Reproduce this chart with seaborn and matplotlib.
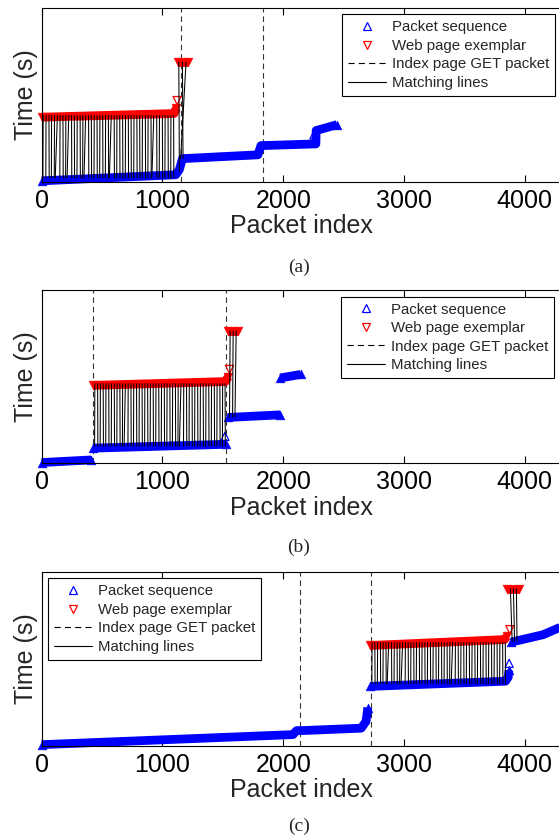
import numpy as np
import pandas as pd
import matplotlib
matplotlib.use("Agg")
import matplotlib.pyplot as plt
from matplotlib.lines import Line2D
import seaborn as sns

# ---------------- data ----------------
x_ticks = [0, 1000, 2000, 3000, 4000]
x_max = 4300
y_max = 10
panel_captions = ["(a)", "(b)", "(c)"]
legend_labels = ["Packet sequence", "Web page exemplar", "Index page GET packet", "Matching lines"]

# Panel (a)
a_seq_x = [0, 1110, 1140, 1165, 1790, 1815, 2270, 2272, 2445]
a_seq_y = [0.05, 0.40, 0.70, 1.33, 1.55, 2.08, 2.18, 2.95, 3.29]
a_seq_part = [1, 1, 1, 1, 1, 1, 1, 1, 1]
a_seq_single_x = [2254]
a_seq_single_y = [2.70]
a_ex_x = [0, 1095, 1115, 1125, 1210]
a_ex_y = [3.72, 3.93, 4.25, 6.90, 6.90]
a_ex_part = [1, 1, 1, 2, 2]
a_ex_single_x = [1121]
a_ex_single_y = [4.68]
a_get_x = [1157, 1829]
a_match_ex_x = [12, 36, 60, 82, 106, 130, 152, 176, 200, 224, 247, 270, 294, 318, 341, 364,
                388, 411, 435, 458, 482, 505, 529, 552, 576, 600, 623, 646, 670, 694, 717, 740,
                764, 788, 811, 834, 858, 881, 905, 928, 952, 975, 999, 1022, 1046, 1070, 1092]
a_match_seq_x = [10, 34, 62, 80, 104, 112, 150, 178, 198, 210, 249, 272, 292, 320, 339, 350,
                 390, 413, 433, 460, 480, 507, 527, 554, 560, 602, 621, 648, 672, 692, 719, 742,
                 762, 790, 813, 832, 860, 879, 907, 912, 954, 973, 1001, 1020, 1048, 1068, 1094]
a_match_ex_y = 3.82
a_match_seq_y = 0.22
a_top_ex_x = [1135, 1165, 1195]
a_top_ex_y = [6.90, 6.90, 6.90]
a_top_seq_x = [1140, 1170, 1150]
a_top_seq_y = [0.60, 1.35, 1.33]

# Panel (b)
b_seq_x = [0, 410, 425, 1525, 1540, 1975, 1975, 2145]
b_seq_y = [0.05, 0.20, 0.88, 1.10, 2.65, 2.80, 4.93, 5.13]
b_seq_part = [1, 1, 2, 2, 3, 3, 4, 4]
b_seq_single_x = [1517]
b_seq_single_y = [1.56]
b_ex_x = [425, 1520, 1545, 1545, 1625]
b_ex_y = [4.50, 4.72, 5.00, 7.63, 7.63]
b_ex_part = [1, 1, 1, 2, 2]
b_ex_single_x = [1555]
b_ex_single_y = [5.42]
b_get_x = [421, 1529]
b_match_ex_x = [440, 463, 486, 509, 532, 555, 578, 601, 624, 647, 670, 693, 716, 739, 762, 785,
                808, 831, 854, 877, 900, 923, 946, 969, 992, 1015, 1038, 1061, 1084, 1107, 1130,
                1153, 1176, 1199, 1222, 1245, 1268, 1291, 1314, 1337, 1360, 1383, 1406, 1429,
                1452, 1475, 1498, 1518]
b_match_seq_x = [438, 465, 484, 511, 530, 557, 576, 603, 622, 649, 668, 682, 714, 741, 760, 787,
                 806, 833, 852, 879, 898, 925, 944, 971, 990, 1017, 1036, 1063, 1082, 1109, 1128,
                 1140, 1174, 1201, 1220, 1247, 1266, 1293, 1312, 1339, 1358, 1385, 1404, 1431,
                 1450, 1477, 1496, 1520]
b_match_ex_y = 4.60
b_match_seq_y = 1.00
b_top_ex_x = [1560, 1585, 1610]
b_top_ex_y = [7.63, 7.63, 7.63]
b_top_seq_x = [1555, 1580, 1600]
b_top_seq_y = [2.65, 2.66, 2.67]

# Panel (c)
c_seq_x = [0, 2080, 2110, 2150, 2645, 2685, 2700, 2720, 3840, 3862, 3868, 3885, 4150, 4300]
c_seq_y = [0.06, 0.64, 0.87, 0.87, 1.01, 1.40, 2.20, 3.42, 3.72, 3.95, 4.35, 5.97, 6.40, 6.85]
c_seq_part = [1, 1, 1, 1, 1, 1, 1, 2, 2, 2, 2, 3, 3, 3]
c_seq_single_x = [3870]
c_seq_single_y = [4.75]
c_ex_x = [2720, 3830, 3852, 3855, 3950]
c_ex_y = [5.78, 6.12, 6.30, 9.06, 9.06]
c_ex_part = [1, 1, 1, 2, 2]
c_ex_single_x = [3875]
c_ex_single_y = [6.69]
c_get_x = [2135, 2727]
c_match_ex_x = [2735, 2758, 2781, 2804, 2827, 2850, 2873, 2896, 2919, 2942, 2965, 2988, 3011,
                3034, 3057, 3080, 3103, 3126, 3149, 3172, 3195, 3218, 3241, 3264, 3287, 3310,
                3333, 3356, 3379, 3402, 3425, 3448, 3471, 3494, 3517, 3540, 3563, 3586, 3609,
                3632, 3655, 3678, 3701, 3724, 3747, 3770, 3793, 3816, 3838]
c_match_seq_x = [2733, 2760, 2779, 2806, 2825, 2852, 2860, 2898, 2917, 2944, 2963, 2975, 3009,
                 3036, 3055, 3082, 3101, 3128, 3147, 3174, 3193, 3220, 3239, 3266, 3285, 3312,
                 3331, 3358, 3377, 3390, 3423, 3450, 3469, 3496, 3515, 3542, 3561, 3588, 3607,
                 3634, 3653, 3680, 3699, 3726, 3745, 3772, 3791, 3818, 3840]
c_match_ex_y = 5.95
c_match_seq_y = 3.57
c_top_ex_x = [3880, 3905, 3930]
c_top_ex_y = [9.06, 9.06, 9.06]
c_top_seq_x = [3895, 3915, 3935]
c_top_seq_y = [6.00, 6.02, 6.05]

panels = [
    dict(seq_x=a_seq_x, seq_y=a_seq_y, seq_part=a_seq_part, seq_sx=a_seq_single_x, seq_sy=a_seq_single_y,
         ex_x=a_ex_x, ex_y=a_ex_y, ex_part=a_ex_part, ex_sx=a_ex_single_x, ex_sy=a_ex_single_y,
         get_x=a_get_x, m_ex_x=a_match_ex_x, m_seq_x=a_match_seq_x, m_ex_y=a_match_ex_y, m_seq_y=a_match_seq_y,
         t_ex_x=a_top_ex_x, t_ex_y=a_top_ex_y, t_seq_x=a_top_seq_x, t_seq_y=a_top_seq_y, legend="right"),
    dict(seq_x=b_seq_x, seq_y=b_seq_y, seq_part=b_seq_part, seq_sx=b_seq_single_x, seq_sy=b_seq_single_y,
         ex_x=b_ex_x, ex_y=b_ex_y, ex_part=b_ex_part, ex_sx=b_ex_single_x, ex_sy=b_ex_single_y,
         get_x=b_get_x, m_ex_x=b_match_ex_x, m_seq_x=b_match_seq_x, m_ex_y=b_match_ex_y, m_seq_y=b_match_seq_y,
         t_ex_x=b_top_ex_x, t_ex_y=b_top_ex_y, t_seq_x=b_top_seq_x, t_seq_y=b_top_seq_y, legend="right"),
    dict(seq_x=c_seq_x, seq_y=c_seq_y, seq_part=c_seq_part, seq_sx=c_seq_single_x, seq_sy=c_seq_single_y,
         ex_x=c_ex_x, ex_y=c_ex_y, ex_part=c_ex_part, ex_sx=c_ex_single_x, ex_sy=c_ex_single_y,
         get_x=c_get_x, m_ex_x=c_match_ex_x, m_seq_x=c_match_seq_x, m_ex_y=c_match_ex_y, m_seq_y=c_match_seq_y,
         t_ex_x=c_top_ex_x, t_ex_y=c_top_ex_y, t_seq_x=c_top_seq_x, t_seq_y=c_top_seq_y, legend="left"),
]

# ---------------- style ----------------
sns.set_style("white")
plt.rcParams["font.family"] = ["Liberation Sans", "DejaVu Sans"]
plt.rcParams["axes.edgecolor"] = "black"
plt.rcParams["axes.linewidth"] = 0.8

W, H = 559, 840
fig = plt.figure(figsize=(W / 100, H / 100), dpi=100)

ax_left_px, ax_right_px = 41.7, 561.1
ax_tops_px = [8.3, 290.0, 572.3]
ax_h_px = 173.4
caption_y_px = [267, 547, 826]
legend_anchor_px = [(555.0, 14.3), (554.0, 296.7), (48.3, 578.3)]

BLUE = (0, 0, 1)
RED = (1, 0, 0)
BAND = 6.3  # band thickness in points


def draw_band(ax, xs, ys, parts, color, marker):
    df = pd.DataFrame({"x": xs, "y": ys, "part": parts})
    sns.lineplot(data=df, x="x", y="y", units="part", estimator=None, sort=False,
                 color=color, lw=BAND, solid_capstyle="butt", solid_joinstyle="round",
                 ax=ax, legend=False, clip_on=False, zorder=2)
    ends = pd.concat([df.groupby("part").head(1), df.groupby("part").tail(1)])
    sns.scatterplot(data=ends, x="x", y="y", marker=marker, s=BAND ** 2,
                    color=color, edgecolor=color, linewidth=0.4, ax=ax, legend=False,
                    clip_on=False, zorder=2)


for i, p in enumerate(panels):
    top = ax_tops_px[i]
    ax = fig.add_axes([ax_left_px / W, 1 - (top + ax_h_px) / H,
                       (ax_right_px - ax_left_px) / W, ax_h_px / H])

    # Index page GET packets
    for gx in p["get_x"]:
        ax.axvline(gx, color="0.2", lw=0.8, dashes=(5.0, 3.5), zorder=1)

    draw_band(ax, p["seq_x"], p["seq_y"], p["seq_part"], BLUE, "^")
    draw_band(ax, p["ex_x"], p["ex_y"], p["ex_part"], RED, "v")

    # isolated open markers
    sns.scatterplot(x=p["seq_sx"], y=p["seq_sy"], marker="^", s=34, facecolors="none",
                    edgecolor=BLUE, linewidth=0.9, ax=ax, legend=False, zorder=3, clip_on=False)
    sns.scatterplot(x=p["ex_sx"], y=p["ex_sy"], marker="v", s=34, facecolors="none",
                    edgecolor=RED, linewidth=0.9, ax=ax, legend=False, zorder=3, clip_on=False)

    # matching lines
    n = len(p["m_ex_x"])
    mx, my, mid = [], [], []
    for k in range(n):
        mx += [p["m_ex_x"][k], p["m_seq_x"][k]]
        my += [p["m_ex_y"], p["m_seq_y"]]
        mid += [k, k]
    for k in range(len(p["t_ex_x"])):
        mx += [p["t_ex_x"][k], p["t_seq_x"][k]]
        my += [p["t_ex_y"][k], p["t_seq_y"][k]]
        mid += [n + k, n + k]
    mdf = pd.DataFrame({"x": mx, "y": my, "id": mid})
    sns.lineplot(data=mdf, x="x", y="y", units="id", estimator=None, sort=False,
                 color="black", lw=0.75, ax=ax, legend=False, zorder=4)

    ax.set_xlim(0, x_max)
    ax.set_ylim(0, y_max)
    ax.set_xticks(x_ticks)
    ax.set_xticklabels([str(t) for t in x_ticks])
    ax.set_yticks([])
    ax.tick_params(axis="x", direction="in", top=True, bottom=True, length=5, width=0.8,
                   labelsize=18, pad=5, colors="black")
    for s in ["left", "bottom", "top", "right"]:
        ax.spines[s].set_visible(True)
        ax.spines[s].set_color("black")
        ax.spines[s].set_linewidth(0.8)
    ax.set_xlabel("Packet index", fontsize=18, labelpad=1)
    ax.set_ylabel("Time (s)", fontsize=18, labelpad=3)

    handles = [
        Line2D([], [], ls="none", marker="^", ms=6, mfc="none", mec=BLUE, mew=0.9),
        Line2D([], [], ls="none", marker="v", ms=6, mfc="none", mec=RED, mew=0.9),
        Line2D([], [], color="black", lw=0.8, dashes=(5.5, 3.8)),
        Line2D([], [], color="black", lw=0.8),
    ]
    axx, axy = legend_anchor_px[i]
    loc = "upper right" if p["legend"] == "right" else "upper left"
    leg = ax.legend(handles, legend_labels, loc=loc,
                    bbox_to_anchor=(axx / W, 1 - axy / H), bbox_transform=fig.transFigure,
                    borderaxespad=0, fontsize=10.8, handlelength=2.5, handletextpad=0.4,
                    labelspacing=0.3, borderpad=0.4, numpoints=1, fancybox=False,
                    framealpha=1, edgecolor="black")
    leg.get_frame().set_linewidth(0.8)
    leg.set_zorder(10)

    fig.text(299 / W, 1 - caption_y_px[i] / H, panel_captions[i], ha="center", va="center",
             fontsize=14, family=["Liberation Serif", "DejaVu Serif"])

fig.savefig("out.png", dpi=100)
